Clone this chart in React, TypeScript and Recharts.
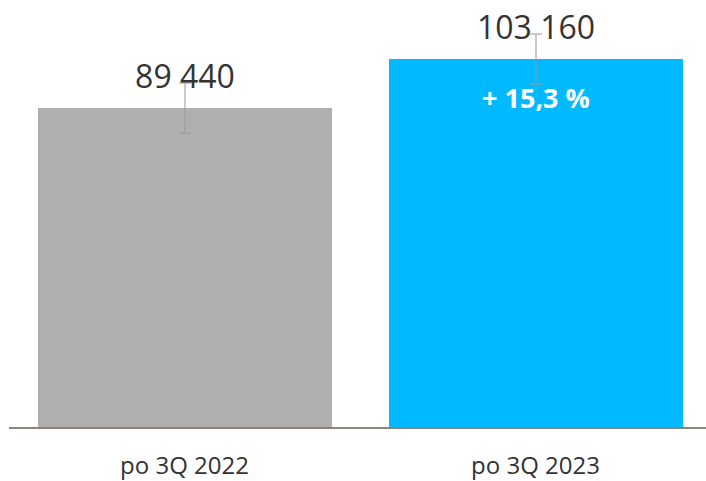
import { BarChart, Bar, XAxis, YAxis, LabelList, ErrorBar, Cell } from "recharts";

const categories = ["po 3Q 2022", "po 3Q 2023"];
const values = [89440, 103160];
const errors = [7000, 7000];
const changes = ["", "+ 15,3 %"];
const colors = ["#b0b0b0", "#00b9ff"];

const data = categories.map((name, i) => ({
  name,
  value: values[i],
  err: errors[i],
  change: changes[i],
}));

const fmt = (v: any) => String(v).replace(/\B(?=(\d{3})+(?!\d))/g, " ");

const App = () => {
  return (
    <div
      style={{
        position: "absolute",
        left: 0,
        top: 0,
        width: 706,
        height: 481,
        overflow: "hidden",
        background: "#fff",
        fontFamily: "'Open Sans', sans-serif",
      }}
    >
      <BarChart
        width={711}
        height={481}
        data={data}
        margin={{ top: 34, right: 0, bottom: 0, left: 9 }}
        barSize={294}
      >
        <XAxis
          dataKey="name"
          height={53}
          tickLine={false}
          tickSize={0}
          tickMargin={29}
          axisLine={{ stroke: "#8b857d", strokeWidth: 2 }}
          tick={{ fill: "#333", fontSize: 24 }}
        />
        <YAxis hide domain={[0, 110000]} />
        <Bar dataKey="value" isAnimationActive={false}>
          {data.map((d, i) => (
            <Cell key={d.name} fill={colors[i]} />
          ))}
          <ErrorBar dataKey="err" width={6} stroke="#999" strokeWidth={1} />
          <LabelList
            dataKey="value"
            position="top"
            offset={20}
            formatter={fmt}
            style={{ fill: "#333", fontSize: 32 }}
          />
          <LabelList
            dataKey="change"
            position="insideTop"
            offset={30}
            style={{ fill: "#fff", fontSize: 27, fontWeight: 700 }}
          />
        </Bar>
      </BarChart>
    </div>
  );
};

export default App;
